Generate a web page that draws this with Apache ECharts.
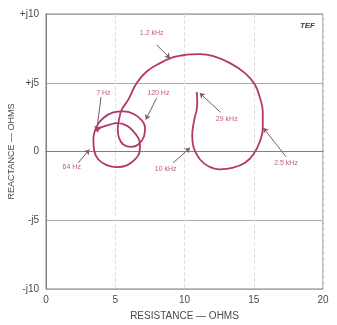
<!DOCTYPE html>
<html><head><meta charset="utf-8">
<script src="https://cdn.jsdelivr.net/npm/echarts@6/dist/echarts.min.js"></script>
<style>html,body{margin:0;padding:0;background:#fff}#c{width:337px;height:325px}</style>
</head><body><div id="c"></div>
<script>
// Impedance curve (resistance, reactance) in ohms, traced in frequency order 7 Hz -> 29 kHz
const resistance = [3.68,3.90,4.62,5.20,5.83,6.30,6.66,6.79,6.74,6.43,5.83,5.10,4.38,3.78,3.49,3.42,3.66,4.14,4.86,5.58,6.30,6.91,7.15,7.08,6.66,6.18,5.58,5.27,5.18,5.27,5.47,5.94,6.55,7.27,8.23,9.19,9.90,10.50,11.12,12.08,13.29,14.37,15.09,15.45,15.65,15.65,15.45,14.97,14.37,13.52,12.56,11.72,11.12,10.76,10.59,10.56,10.64,10.76,10.88,10.92,10.88];
const reactance  = [1.43,1.72,1.96,2.08,1.88,1.47,0.99,0.51,-0.09,-0.58,-1.01,-1.14,-0.99,-0.58,0.02,0.87,1.83,2.44,2.85,2.92,2.75,2.27,1.74,1.11,0.51,0.34,0.51,0.99,1.59,2.32,3.04,3.77,4.98,5.82,6.43,6.86,7.00,7.06,7.08,6.93,6.43,5.70,4.86,3.89,2.92,1.72,0.75,-0.22,-0.82,-1.18,-1.30,-1.07,-0.58,0.02,0.63,1.23,1.96,2.56,3.04,3.64,4.33];

const xTicks = [0,5,10,15,20];
const yTickValues = [-10,-5,0,5,10];
const yTickLabels = ['-j10','-j5','0','+j5','+j10'];

// Frequency annotations: label position, arrow start, arrow end (data units)
const annotNames = ['1.2 kHz','7 Hz','120 Hz','64 Hz','10 kHz','29 kHz','2.5 kHz'];
const annotLabelX = [7.63,4.14,8.11,1.86,8.64,13.05,17.33];
const annotLabelY = [8.60,4.25,4.25,-1.14,-1.25,2.39,-0.82];
const arrowFromX = [7.99,3.97,7.99,2.33,9.19,12.60,17.33];
const arrowFromY = [7.75,3.96,3.89,-0.82,-0.82,2.85,-0.38];
const arrowToX   = [8.95,3.66,7.20,3.13,10.40,11.10,15.69];
const arrowToY   = [6.79,1.50,2.32,0.14,0.27,4.25,1.72];

const curve = resistance.map((r,i)=>[r,reactance[i]]);
const labels = annotNames.map((n,i)=>({name:n,value:[annotLabelX[i],annotLabelY[i]]}));
const arrows = annotNames.map((n,i)=>({coords:[[arrowFromX[i],arrowFromY[i]],[arrowToX[i],arrowToY[i]]]}));

const font = 'Liberation Sans';
const axisText = '#4a4a4a';
const chart = echarts.init(document.getElementById('c'));
chart.setOption({
  animation:false,
  backgroundColor:'#ffffff',
  title:{text:'TEF',right:17,top:17,textStyle:{fontSize:8,fontStyle:'italic',fontWeight:'bold',color:'#444',fontFamily:font}},
  grid:{left:46,right:14,top:14,bottom:36,containLabel:false,outerBoundsMode:'none',show:true,borderColor:'#808080',borderWidth:1},
  xAxis:{type:'value',min:0,max:20,interval:5,
    name:'RESISTANCE — OHMS',nameLocation:'middle',nameGap:22,nameMoveOverlap:false,
    nameTextStyle:{fontSize:10,color:axisText,fontFamily:font},
    axisLine:{show:true,lineStyle:{color:'#808080'}},axisTick:{show:false},
    axisLabel:{margin:6,fontSize:10,color:axisText,fontFamily:font,
      formatter:v=>xTicks.includes(v)?String(v):''},
    splitLine:{show:true,lineStyle:{color:'#e2e2e2',type:'dashed'}}},
  yAxis:{type:'value',min:-10,max:10,interval:5,
    name:'REACTANCE — OHMS',nameLocation:'middle',nameGap:30,nameRotate:90,nameMoveOverlap:false,
    nameTextStyle:{fontSize:9,color:axisText,fontFamily:font},
    axisLine:{show:true,lineStyle:{color:'#808080'}},axisTick:{show:false},
    axisLabel:{margin:7,fontSize:10,color:axisText,fontFamily:font,
      formatter:v=>{const k=yTickValues.indexOf(v);return k>=0?yTickLabels[k]:'';}},
    splitLine:{show:true,lineStyle:{color:'#ababab',width:1}}},
  series:[
    {type:'line',data:curve,smooth:0.4,showSymbol:false,symbol:'none',
      lineStyle:{color:'#b3386a',width:1.8},z:5},
    {type:'lines',coordinateSystem:'cartesian2d',data:arrows,
      symbol:['none','arrow'],symbolSize:5,
      lineStyle:{color:'#7d5a6c',width:1,opacity:1},z:4},
    {type:'scatter',data:labels,symbolSize:0,
      label:{show:true,position:'inside',formatter:'{b}',fontSize:7,color:'#b03262',fontFamily:font},z:6}
  ]
});
</script></body></html>
